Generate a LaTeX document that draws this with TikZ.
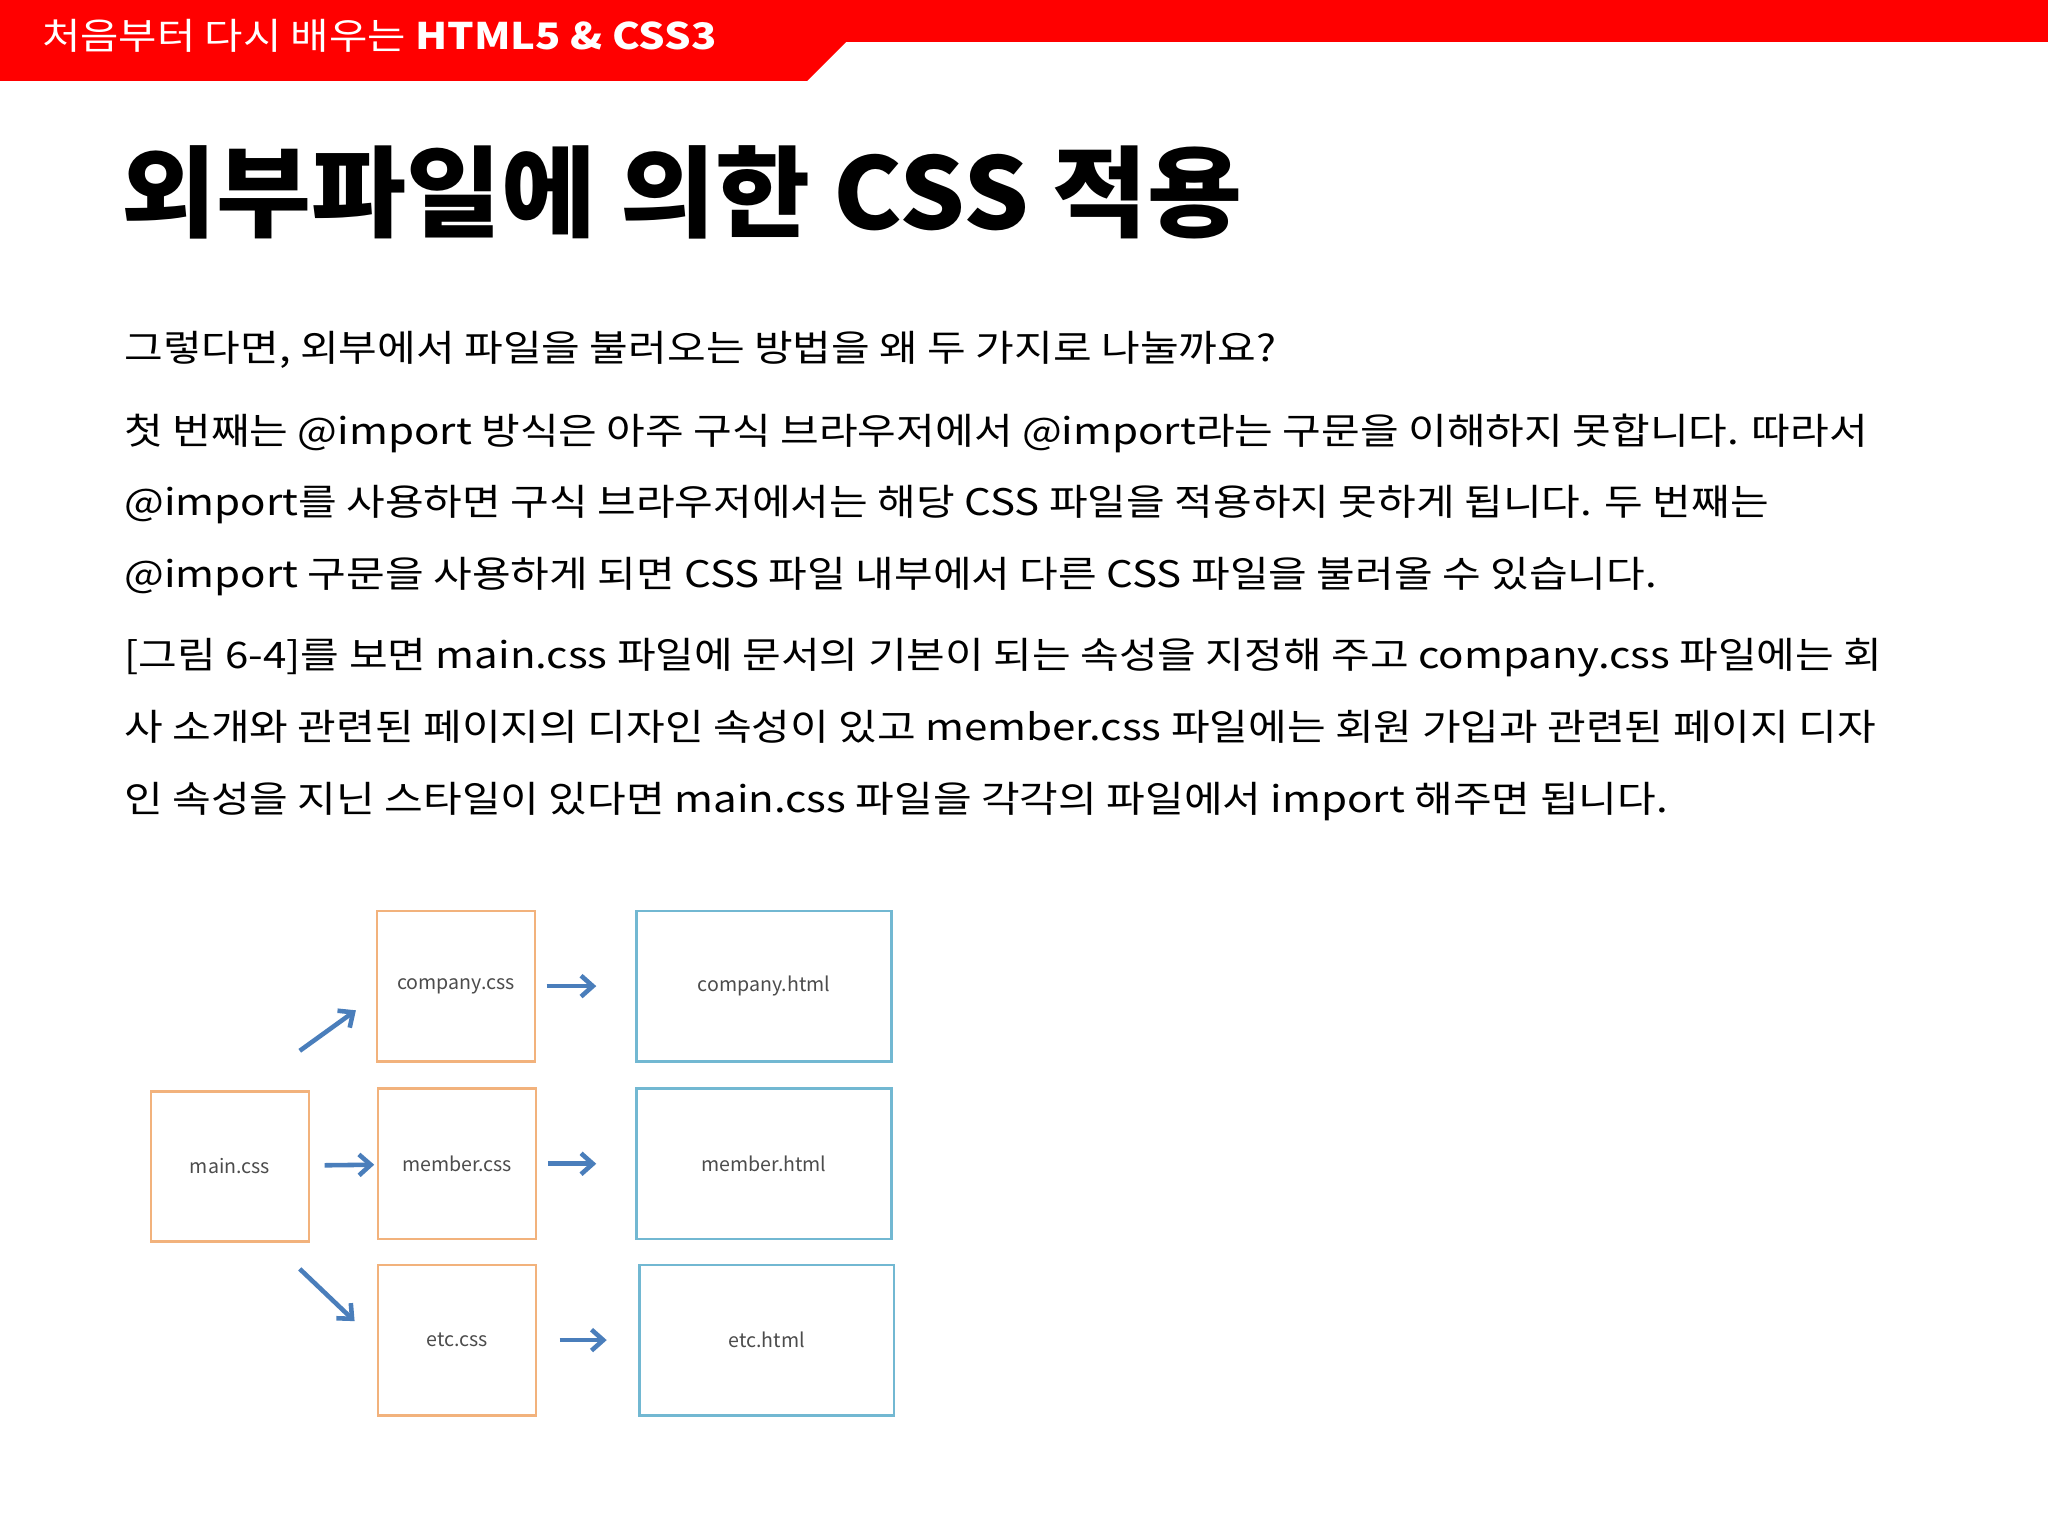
\documentclass[tikz,border=0pt]{standalone}
\usepackage{fontspec}
\setmainfont{Noto Sans CJK KR}
\usetikzlibrary{arrows.meta}
\definecolor{bannerred}{HTML}{FF0000}
\definecolor{cssline}{HTML}{F2B27C}
\definecolor{htmlline}{HTML}{72B8D2}
\definecolor{arrowblue}{HTML}{4A7EBB}
\tikzset{
  cssbox/.style={rectangle, draw=cssline, line width=2pt, minimum width=121pt, minimum height=115pt,
    font=\fontsize{15}{15}\selectfont, text=black!70},
  htmlbox/.style={rectangle, draw=htmlline, line width=2pt, minimum width=195pt, minimum height=115pt,
    font=\fontsize{15}{15}\selectfont, text=black!70},
  link/.style={draw=arrowblue, line width=3.5pt, -{Straight Barb[length=9pt,width=16pt,line width=3.5pt]}},
  bodyline/.style={anchor=base west, inner sep=0, xscale=1.15, transform shape, font=\fontsize{28}{28}\selectfont}
}
\begin{document}
\begin{tikzpicture}[x=1pt, y=-1pt]
  \useasboundingbox (0,0) rectangle (1568,1176);
  \fill[white] (0,0) rectangle (1568,1176);
  % banner
  \fill[bannerred] (0,0) -- (1568,0) -- (1568,32) -- (648,32) -- (618,62) -- (0,62) -- cycle;
  \node[anchor=base west, inner sep=0, xscale=1.14, transform shape, text=white, font=\fontsize{28}{28}\selectfont] (banner) at (32,38)
    {처음부터 다시 배우는 \textbf{HTML5 \& CSS3}};
  \node[anchor=base west, inner sep=0, xscale=1.04, transform shape, font=\fontsize{76}{76}\selectfont\bfseries] (title) at (93,176)
    {외부파일에 의한 CSS 적용};

  \node[bodyline] (l1) at (95,277) {그렇다면, 외부에서 파일을 불러오는 방법을 왜 두 가지로 나눌까요?};
  \node[bodyline] (l2) at (95,340) {첫 번째는 @import 방식은 아주 구식 브라우저에서 @import라는 구문을 이해하지 못합니다. 따라서};
  \node[bodyline] (l3) at (95,395) {@import를 사용하면 구식 브라우저에서는 해당 CSS 파일을 적용하지 못하게 됩니다. 두 번째는};
  \node[bodyline] (l4) at (95,450) {@import 구문을 사용하게 되면 CSS 파일 내부에서 다른 CSS 파일을 불러올 수 있습니다.};
  \node[bodyline] (l5) at (95,512) {[그림 6-4]를 보면 main.css 파일에 문서의 기본이 되는 속성을 지정해 주고 company.css 파일에는 회};
  \node[bodyline] (l6) at (95,567) {사 소개와 관련된 페이지의 디자인 속성이 있고 member.css 파일에는 회원 가입과 관련된 페이지 디자};
  \node[bodyline] (l7) at (95,622) {인 속성을 지닌 스타일이 있다면 main.css 파일을 각각의 파일에서 import 해주면 됩니다.};

  % diagram
  \node[cssbox] (main) at (176,893) {main.css};
  \node[cssbox] (company) at (349,755) {company.css};
  \node[cssbox] (member) at (350,891) {member.css};
  \node[cssbox] (etc) at (350,1026) {etc.css};
  \node[htmlbox] (companyhtml) at (585,755) {company.html};
  \node[htmlbox] (memberhtml) at (585,891) {member.html};
  \node[htmlbox] (etchtml) at (587,1026) {etc.html};

  \draw[link] ([shift={(-8,-30)}]main.north east) -- ([shift={(-15,-40)}]company.south west);
  \draw[link, shorten <=11pt, shorten >=2pt] (main) -- (member);
  \draw[link] ([shift={(-8,20)}]main.south east) -- ([shift={(-17,44)}]etc.north west);
  \draw[link, shorten <=8pt, shorten >=30pt] (company) -- (companyhtml);
  \draw[link, shorten <=8pt, shorten >=30pt] (member) -- (memberhtml);
  \draw[link, shorten <=17pt, shorten >=24pt] (etc) -- (etchtml);
\end{tikzpicture}
\end{document}
